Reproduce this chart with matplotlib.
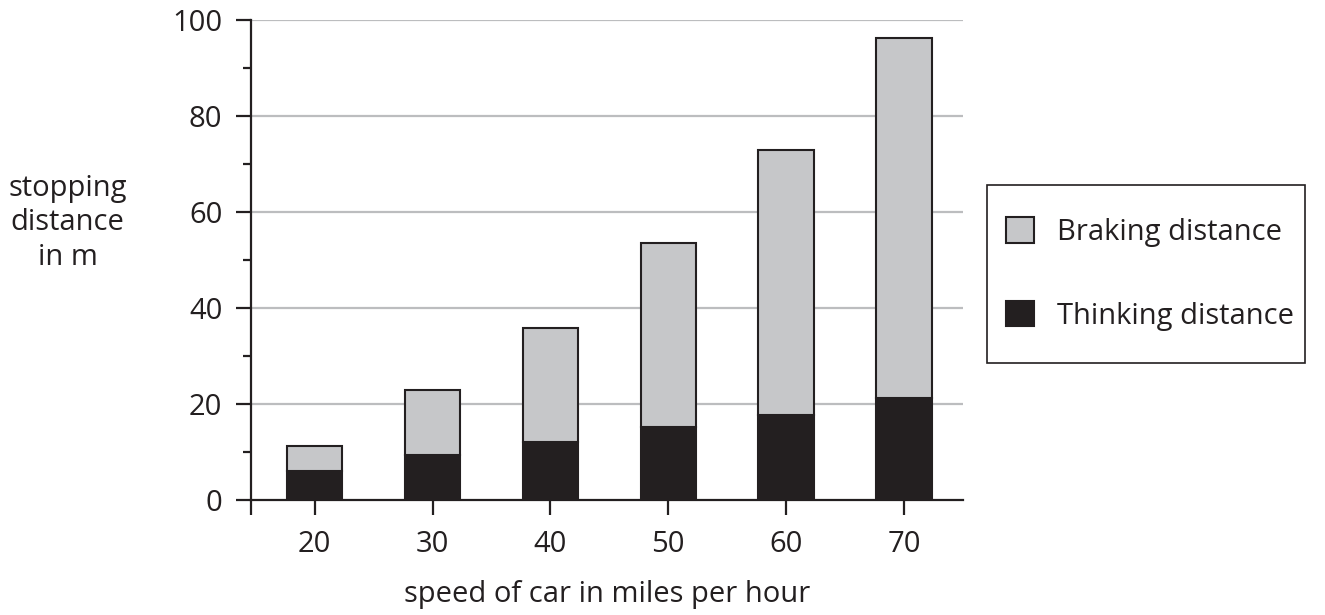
import numpy as np
import matplotlib.pyplot as plt
from matplotlib.patches import Patch, Rectangle

plt.rcParams['font.family'] = ['Open Sans', 'DejaVu Sans']

speeds = [20, 30, 40, 50, 60, 70]
thinking = [6.0, 9.3, 12.0, 15.3, 17.7, 21.3]
total = [11.3, 23.0, 35.8, 53.6, 73.0, 96.3]
braking = [t - th for t, th in zip(total, thinking)]

dark = '#231f20'
grey = '#c6c7c9'
fs = 21

fig = plt.figure(figsize=(13.25, 6.15), dpi=100)
ax = fig.add_axes([0.1894, 0.187, 0.5374, 0.7805])

ax.bar(speeds, thinking, width=4.7, color=dark, edgecolor=dark, linewidth=1.5, zorder=3)
ax.bar(speeds, braking, width=4.7, bottom=thinking, color=grey, edgecolor=dark,
       linewidth=1.5, zorder=3)

ax.set_xlim(14.6, 75.0)
ax.set_ylim(0, 100)
ax.set_xticks(speeds)
ax.set_xticks([14.6], minor=True)
ax.set_yticks([0, 20, 40, 60, 80, 100])
ax.set_yticks([10, 30, 50, 70, 90], minor=True)

for y in [20, 40, 60, 80, 100]:
    ax.axhline(y, color='#bcbdbf', lw=1.6, zorder=1)

for s in ['top', 'right']:
    ax.spines[s].set_visible(False)
for s in ['left', 'bottom']:
    ax.spines[s].set_color(dark)
    ax.spines[s].set_linewidth(1.6)

ax.tick_params(axis='both', which='major', length=10.5, width=1.6, color=dark,
               labelsize=fs, labelcolor=dark, pad=10)
ax.tick_params(axis='y', which='minor', length=6, width=1.6, color=dark)
ax.tick_params(axis='x', which='minor', length=10.5, width=1.6, color=dark)
ax.tick_params(axis='x', which='major', pad=11)

ax.set_xlabel('speed of car in miles per hour', fontsize=fs, color=dark, labelpad=15)
fig.text(0.051, 1 - 223 / 615, 'stopping\ndistance\nin m', fontsize=fs, color=dark,
         ha='center', va='center', linespacing=1.27)

# legend frame drawn separately so the padding can match
fig.patches.append(Rectangle((987 / 1325, 1 - 363 / 615), 318 / 1325, 178 / 615,
                             transform=fig.transFigure, facecolor='white',
                             edgecolor=dark, linewidth=1.2, zorder=2))
handles = [Patch(facecolor=grey, edgecolor=dark, linewidth=1.5, label='Braking distance'),
           Patch(facecolor=dark, edgecolor=dark, linewidth=1.5, label='Thinking distance')]
leg = fig.legend(handles=handles, loc='center left',
                 bbox_to_anchor=(1006 / 1325, 1 - 274 / 615),
                 fontsize=fs, frameon=False, handlelength=0.95,
                 handleheight=0.95, handletextpad=0.8, labelspacing=1.85,
                 borderpad=0, borderaxespad=0, labelcolor=dark)
leg.set_zorder(5)

fig.savefig('out.png', dpi=100)
